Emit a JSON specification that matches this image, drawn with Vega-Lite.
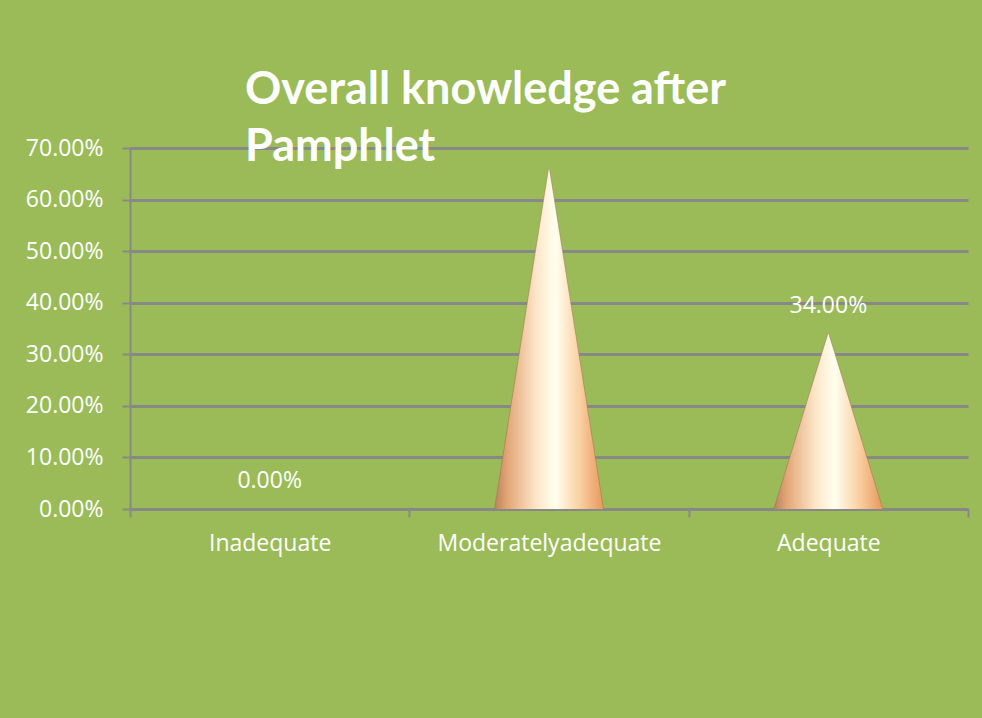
{
  "$schema": "https://vega.github.io/schema/vega-lite/v6.json",
  "width": 838,
  "height": 361,
  "autosize": {"type": "none"},
  "padding": {"left": 130, "top": 148, "right": 14, "bottom": 209},
  "background": "#9BBB59",
  "title": {
    "text": ["Overall knowledge after", "Pamphlet"],
    "anchor": "start",
    "frame": "group",
    "dx": 115,
    "offset": -69,
    "baseline": "alphabetic",
    "font": "Lato",
    "fontSize": 45,
    "fontWeight": "bold",
    "color": "#FFFFFF",
    "lineHeight": 57
  },
  "config": {
    "view": {"stroke": null},
    "axis": {"labelFont": "Open Sans", "labelFontSize": 23, "labelColor": "#FFFFFF", "title": null, "labelLimit": 400}
  },
  "data": {
    "values": [
      {"level": "Inadequate", "percent": 0},
      {"level": "Moderatelyadequate", "percent": 0.66},
      {"level": "Adequate", "percent": 0.34}
    ]
  },
  "layer": [
    {
      "transform": [
        {"filter": "datum.percent > 0"},
        {"fold": ["percent"], "as": ["key", "value"]},
        {"impute": "value", "key": "key", "keyvals": ["base", "percent"], "groupby": ["level"], "value": 0}
      ],
      "mark": {
        "type": "trail",
        "clip": true,
        "fill": {
          "gradient": "linear",
          "x1": 0, "y1": 0, "x2": 1, "y2": 0,
          "stops": [
            {"offset": 0, "color": "#B9835C"},
            {"offset": 0.12, "color": "#E3A677"},
            {"offset": 0.38, "color": "#FCE6C8"},
            {"offset": 0.56, "color": "#FFFFEE"},
            {"offset": 0.78, "color": "#F9D0A2"},
            {"offset": 1, "color": "#E8975C"}
          ]
        },
        "stroke": "#A07050",
        "strokeWidth": 0.5
      },
      "encoding": {
        "x": {
          "field": "level",
          "type": "nominal",
          "sort": ["Inadequate", "Moderatelyadequate", "Adequate"],
          "scale": {"type": "band", "paddingInner": 0, "paddingOuter": 0},
          "axis": {
            "tickBand": "extent",
            "grid": false,
            "labelAngle": 0,
            "labelPadding": 15,
            "tickSize": 8,
            "tickColor": "#888888",
            "tickWidth": 2,
            "domainColor": "#888888",
            "domainWidth": 3
          }
        },
        "y": {
          "field": "value",
          "type": "quantitative",
          "scale": {"domain": [0, 0.7], "nice": false},
          "axis": {
            "values": [0, 0.1, 0.2, 0.3, 0.4, 0.5, 0.6, 0.7],
            "format": ".2%",
            "labelPadding": 19,
            "tickSize": 8,
            "tickColor": "#888888",
            "tickWidth": 2,
            "domainColor": "#888888",
            "domainWidth": 2,
            "grid": true,
            "gridColor": "#888888",
            "gridWidth": 3
          }
        },
        "size": {
          "field": "key",
          "type": "nominal",
          "scale": {"type": "ordinal", "domain": ["base", "percent"], "range": [109, 0]},
          "legend": null
        },
        "order": {"field": "key"},
        "detail": {"field": "level"}
      }
    },
    {
      "transform": [{"filter": "datum.level !== 'Moderatelyadequate'"}],
      "mark": {"type": "text", "font": "Open Sans", "fontSize": 23, "color": "#FFFFFF", "baseline": "middle", "dy": -28},
      "encoding": {
        "x": {"field": "level", "type": "nominal", "sort": ["Inadequate", "Moderatelyadequate", "Adequate"]},
        "y": {"field": "percent", "type": "quantitative"},
        "text": {"field": "percent", "type": "quantitative", "format": ".2%"}
      }
    }
  ]
}
